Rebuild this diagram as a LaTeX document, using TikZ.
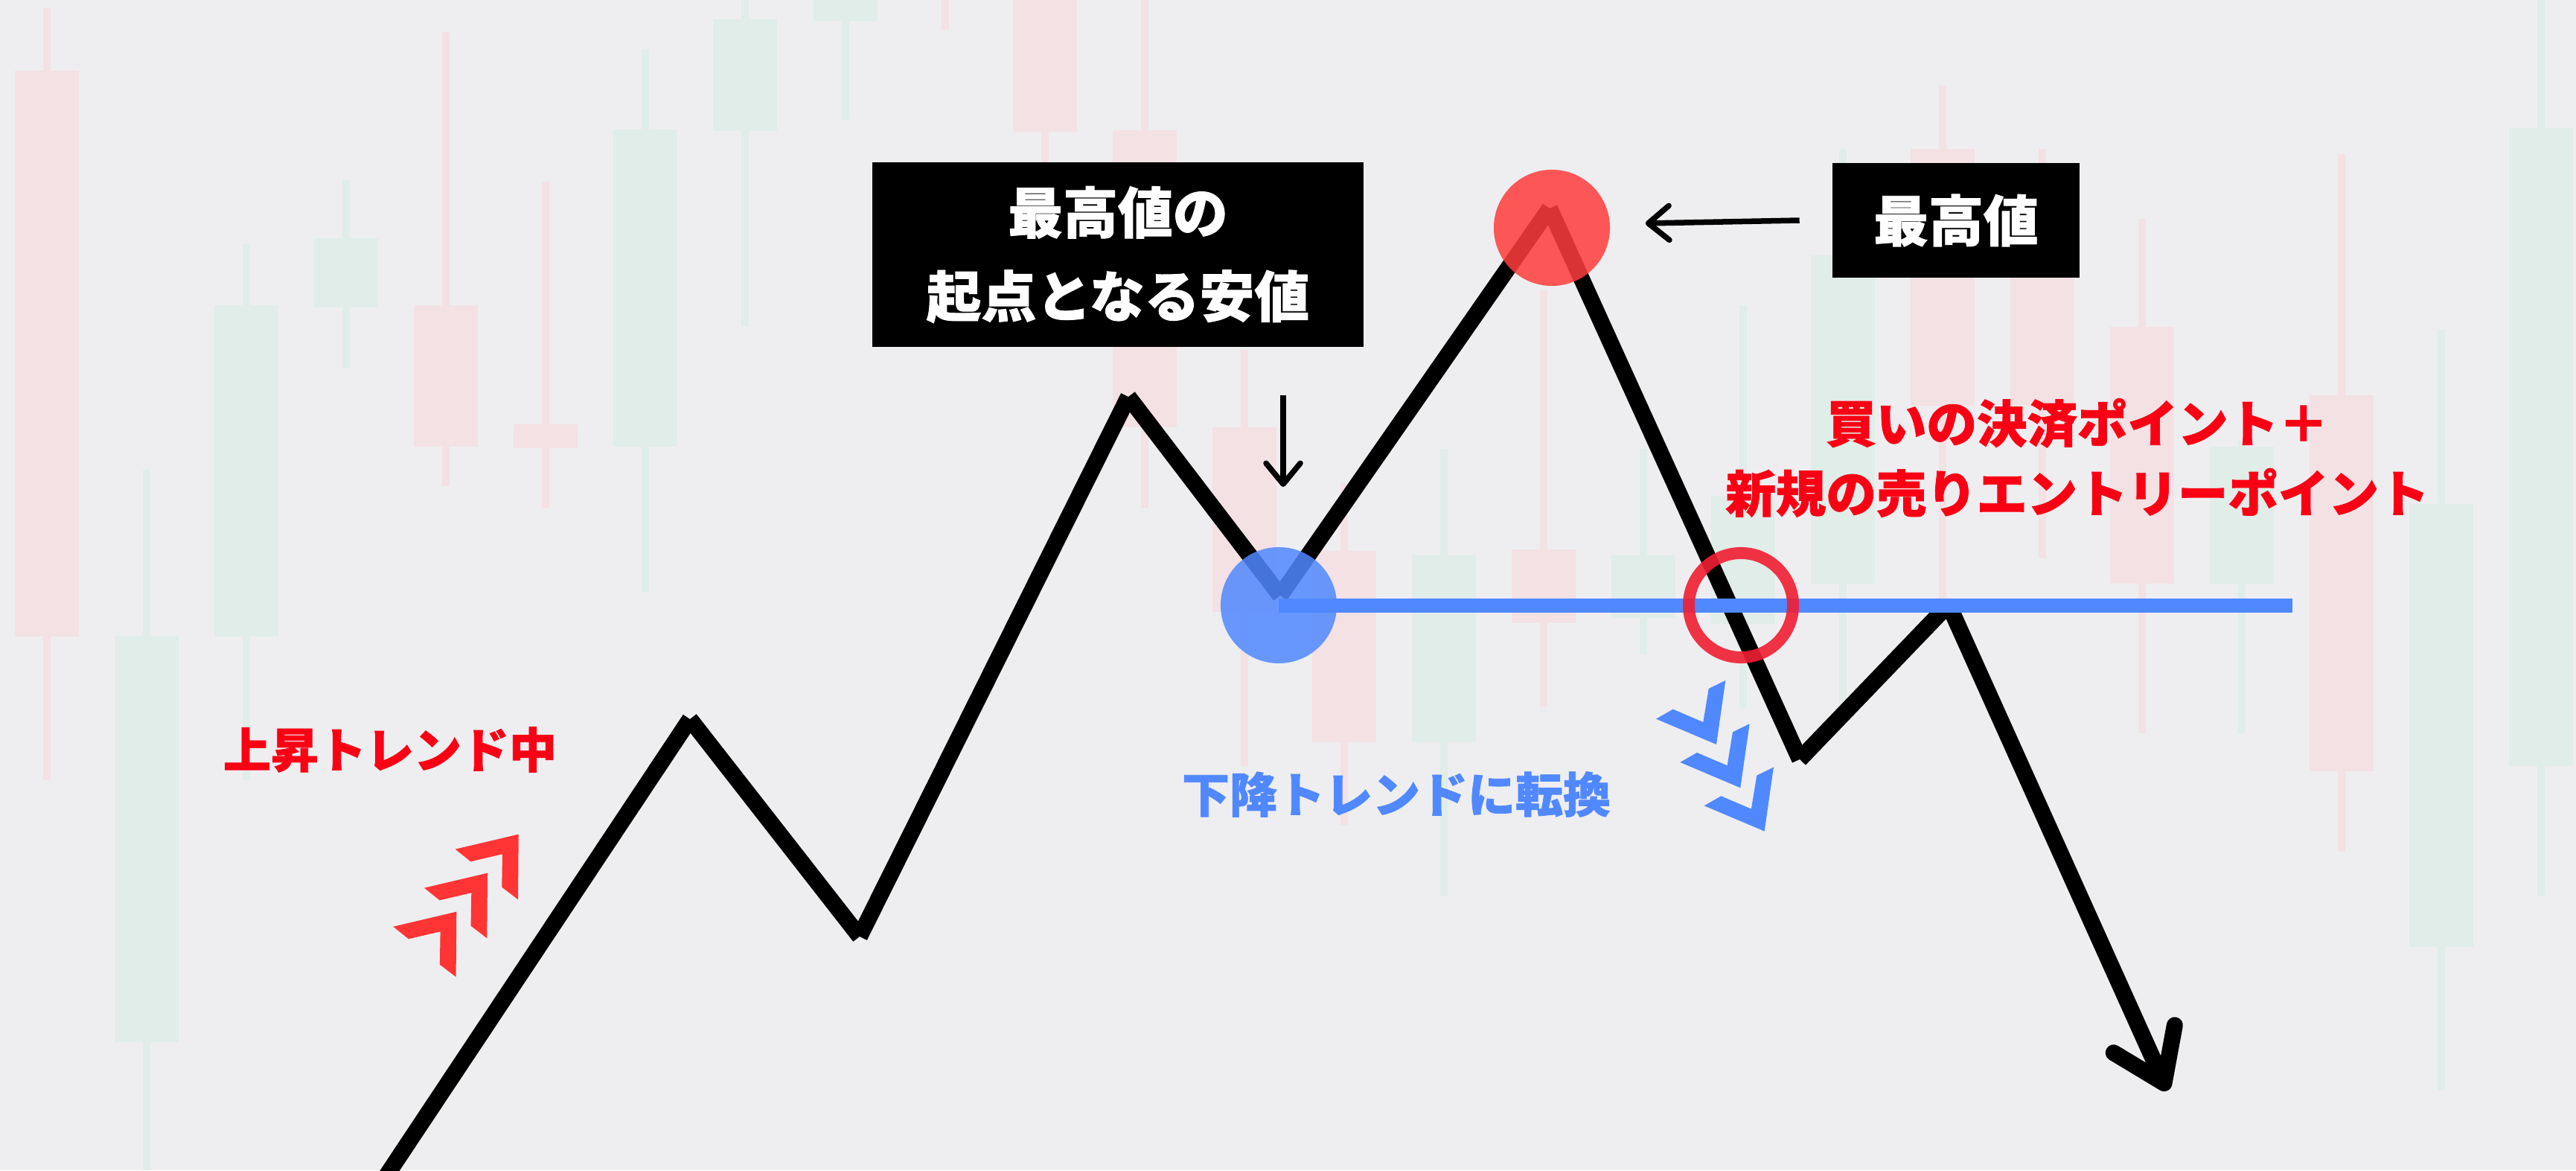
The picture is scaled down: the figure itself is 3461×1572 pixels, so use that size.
\documentclass[tikz,border=0pt]{standalone}
\usepackage{fontspec}
\newfontfamily\jpfont{Noto Sans CJK JP}[BoldFeatures={FakeBold=1.2}]
\usepackage{xcolor}
\usetikzlibrary{arrows.meta}
\definecolor{paper}{RGB}{238,238,240}
\definecolor{candleup}{RGB}{224,237,232}
\definecolor{candledn}{RGB}{243,225,228}
\definecolor{trendblue}{RGB}{80,136,255}
\definecolor{chevred}{RGB}{255,52,52}
\definecolor{labelred}{RGB}{250,0,20}
\definecolor{peakred}{RGB}{255,60,60}
\definecolor{ringred}{RGB}{240,30,50}

\begin{document}
\begin{tikzpicture}[x=0.01cm, y=-0.01cm,
    trend/.style={line width=0.22cm, line cap=butt},
    pointer/.style={-{Straight Barb[length=2.8mm, width=4.6mm, round]}, line width=0.075cm},
    labelbox/.style={rectangle, fill=black, text=white, inner sep=0, align=center,
        font=\jpfont\bfseries\fontsize{21}{32}\selectfont},
    trendtext/.style={inner sep=0, font=\jpfont\bfseries\fontsize{18.2}{22}\selectfont},
    dot/.style={circle, inner sep=0, minimum size=1.56cm, fill opacity=0.85}
]
\useasboundingbox (0,0) rectangle (3461,1572);
\clip (0,0) rectangle (3461,1572);
\fill[paper] (0,0) rectangle (3461,1572);

% faint candles behind the chart
\foreach \cx/\bt/\bb/\wt/\wb/\cc in {63/95/855/11/1048/candledn, 197/854/1400/631/1572/candleup,
    331/410/855/327/1048/candleup, 465/320/413/242/495/candleup, 599/410/600/43/653/candledn,
    733/570/602/244/683/candledn, 867/174/600/66/795/candleup, 1001/26/176/0/439/candleup,
    1136/0/28/0/161/candleup, 1270/0/0/0/40/candledn, 1404/0/177/0/220/candledn,
    1538/175/574/0/683/candledn, 1672/574/822/470/1029/candledn, 1806/740/997/649/1108/candledn,
    1940/746/997/603/1203/candleup, 2074/738/837/390/950/candledn, 2208/746/830/603/879/candleup,
    2342/666/838/410/950/candleup, 2476/343/784/201/948/candleup, 2610/200/545/115/804/candledn,
    2744/373/545/200/750/candledn, 2878/439/784/294/985/candledn, 3012/600/784/591/985/candleup,
    3146/531/1036/207/1144/candledn, 3280/677/1272/442/1464/candleup, 3414/172/1029/0/1203/candleup} {
  \fill[\cc] (\cx-5,\wt) rectangle (\cx+5,\wb);
  \fill[\cc] (\cx-43,\bt) rectangle (\cx+43,\bb);
}

% price path
\coordinate (p0) at (512,1590);
\coordinate (p1) at (927,966);
\coordinate (p2) at (1155,1258);
\coordinate (p3) at (1516,533);
\coordinate (p4) at (1720,800);
\coordinate (p5) at (2082,280);
\coordinate (p6) at (2418,1020);
\coordinate (p7) at (2618,812);
\coordinate (tip) at (2912,1465);

\foreach \a/\b in {p0/p1, p1/p2, p2/p3, p3/p4, p4/p5, p5/p6, p6/p7}
  \draw[trend] (\a) -- (\b);
\draw[trend, -{Straight Barb[length=6.5mm, width=9mm, round]}] (p7) -- (tip);

% marks on the path
\node[dot, fill=trendblue] (lowcirc) at (1718,813) {};
\node[dot, fill=peakred] (highcirc) at (2085,306) {};
\coordinate (lineend) at (3080,813);
\draw[trendblue, line width=0.19cm] (lowcirc.center) -- (lineend);
\node[circle, inner sep=0, minimum size=1.4cm, draw=ringred, line width=0.16cm, draw opacity=0.9] (breakring) at (2339,813) {};

% chevrons
\foreach \i in {0,1,2}
  \fill[chevred, shift={(-41.7*\i,52*\i)}] (611.7,1140.7) -- (696.7,1120.7) -- (696,1208.3)
    -- (674.3,1191.7) -- (675,1147.3) -- (632.3,1157.3) -- cycle;
\foreach \i in {0,1,2}
  \fill[trendblue, shift={(32.3*\i,58.3*\i)}] (2225,965.7) -- (2247.7,952.7) -- (2288.3,970)
    -- (2295.7,925) -- (2318.3,914) -- (2306,1000) -- cycle;

% labels
\node[labelbox, minimum width=6.6cm, minimum height=2.48cm] (lowbox) at (1502,342) {最高値の\\起点となる安値};
\node[labelbox, minimum width=3.31cm, minimum height=1.54cm] (highbox) at (2628,296) {最高値};
\node[trendtext, text=labelred] (uplabel) at (524,1007) {上昇トレンド中};
\node[trendtext, text=trendblue] (downlabel) at (1876,1067) {下降トレンドに転換};
\node[inner sep=0, align=center, text=labelred, font=\jpfont\bfseries\fontsize{19.2}{26.7}\selectfont]
  (exitlabel) at (2791,615) {買いの決済ポイント＋\\新規の売りエントリーポイント};

\coordinate (lowtail) at (1724,531);
\coordinate (lowhead) at (1724,654);
\draw[pointer] (lowtail) -- (lowhead);
\draw[pointer] ([xshift=-0.44cm]highbox.west) -- ([xshift=0.47cm, yshift=0.06cm]highcirc.east);

\end{tikzpicture}
\end{document}
